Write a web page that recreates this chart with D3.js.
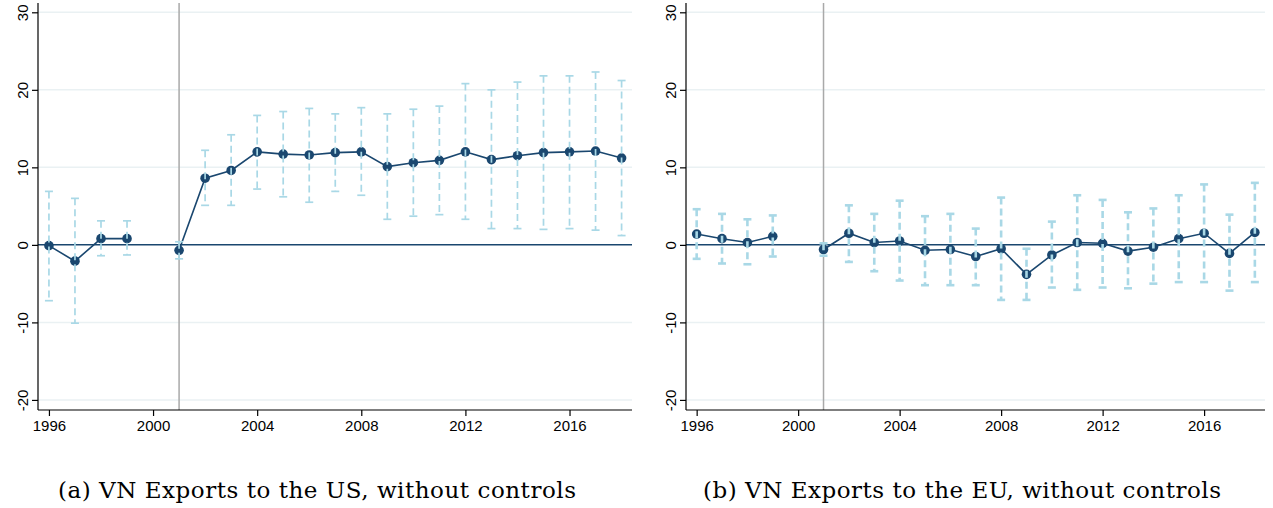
<!DOCTYPE html>
<html>
<head>
<meta charset="utf-8">
<script src="https://cdn.jsdelivr.net/npm/d3@7"></script>
<style>
  body { margin: 0; background: #fff; }
  svg { display: block; }
</style>
</head>
<body>
<div id="chart"></div>
<script>
// event-study years (2000 is the omitted year)
var years = [1996, 1997, 1998, 1999, 2000, 2001, 2002, 2003, 2004, 2005, 2006, 2007,
             2008, 2009, 2010, 2011, 2012, 2013, 2014, 2015, 2016, 2017, 2018];

// (a) exports to the US
var usCoef = [-0.1, -2.1, 0.8, 0.8, null, -0.7, 8.6, 9.6, 12.0, 11.7, 11.6, 11.9,
              12.0, 10.1, 10.6, 10.9, 12.0, 11.0, 11.5, 11.9, 12.0, 12.1, 11.2];
var usHigh = [6.9, 6.0, 3.1, 3.1, null, 0.4, 12.2, 14.2, 16.7, 17.2, 17.6, 16.9,
              17.7, 16.9, 17.5, 17.9, 20.8, 20.0, 21.0, 21.8, 21.8, 22.3, 21.2];
var usLow  = [-7.2, -10.1, -1.4, -1.3, null, -1.8, 5.1, 5.1, 7.2, 6.2, 5.5, 6.9,
              6.4, 3.3, 3.7, 3.9, 3.3, 2.1, 2.1, 2.0, 2.1, 1.9, 1.2];

// (b) exports to the EU
var euCoef = [1.4, 0.8, 0.3, 1.1, null, -0.6, 1.5, 0.3, 0.5, -0.7, -0.6, -1.5,
              -0.5, -3.8, -1.3, 0.3, 0.2, -0.8, -0.3, 0.8, 1.5, -1.1, 1.6];
var euHigh = [4.6, 4.0, 3.3, 3.8, null, 0.2, 5.1, 4.0, 5.7, 3.7, 4.0, 2.1,
              6.1, -0.5, 3.0, 6.4, 5.8, 4.2, 4.7, 6.4, 7.8, 3.9, 8.0];
var euLow  = [-1.8, -2.4, -2.5, -1.5, null, -1.4, -2.2, -3.4, -4.6, -5.2, -5.2, -5.2,
              -7.1, -7.1, -5.5, -5.8, -5.5, -5.6, -5.0, -4.8, -4.8, -5.9, -4.8];

var yTicks = [-20, -10, 0, 10, 20, 30];
var xTicks = [1996, 2000, 2004, 2008, 2012, 2016];
var eventYear = 2001;

var captions = ["(a) VN Exports to the US, without controls",
                "(b) VN Exports to the EU, without controls"];

var W = 1273, H = 508;
var navy = "#1a476f", ciColor = "#a9d8e6", gridColor = "#eaf1f3";
var tickFont = "'Liberation Sans', Arial, sans-serif";

var svg = d3.select("#chart").append("svg")
  .attr("width", W).attr("height", H);

function drawPanel(left, right, coef, lo, hi, caption, capX, ciWidth) {
  var top = 3, bottom = 410;

  var x = d3.scaleLinear().domain([1995.58, 2018.4]).range([left, right]);
  var y = d3.scaleLinear().domain([-21.3, 31.2]).range([bottom, top]);

  var g = svg.append("g");

  // grid lines
  g.selectAll("line.grid")
    .data(yTicks.filter(function(t) { return t !== 0; }))
    .enter().append("line")
    .attr("x1", left).attr("x2", right)
    .attr("y1", function(d) { return y(d); })
    .attr("y2", function(d) { return y(d); })
    .attr("stroke", gridColor).attr("stroke-width", 1.5);

  // zero line
  g.append("line")
    .attr("x1", left).attr("x2", right)
    .attr("y1", y(0)).attr("y2", y(0))
    .attr("stroke", navy).attr("stroke-width", 1.5);

  // event line
  g.append("line")
    .attr("x1", x(eventYear)).attr("x2", x(eventYear))
    .attr("y1", top).attr("y2", bottom)
    .attr("stroke", "#a9a9a9").attr("stroke-width", 1.5);

  var pts = years.map(function(yr, i) {
    return { year: yr, coef: coef[i], lo: lo[i], hi: hi[i] };
  });

  var line = d3.line()
    .defined(function(d) { return d.coef !== null; })
    .x(function(d) { return x(d.year); })
    .y(function(d) { return y(d.coef); });

  g.append("path").datum(pts)
    .attr("d", line)
    .attr("fill", "none")
    .attr("stroke", navy).attr("stroke-width", 1.6);

  var valid = pts.filter(function(d) { return d.coef !== null; });

  g.selectAll("circle.pt")
    .data(valid).enter().append("circle")
    .attr("cx", function(d) { return x(d.year); })
    .attr("cy", function(d) { return y(d.coef); })
    .attr("r", 4.8)
    .attr("fill", navy);

  // confidence intervals, drawn on top of the markers
  var ci = g.selectAll("g.ci").data(valid).enter().append("g")
    .attr("stroke", ciColor);

  ci.append("line")
    .attr("x1", function(d) { return x(d.year); })
    .attr("x2", function(d) { return x(d.year); })
    .attr("y1", function(d) { return y(d.hi); })
    .attr("y2", function(d) { return y(d.lo); })
    .attr("stroke-width", ciWidth)
    .attr("stroke-dasharray", "7,4");

  ["hi", "lo"].forEach(function(k) {
    ci.append("line")
      .attr("x1", function(d) { return x(d.year) - 4; })
      .attr("x2", function(d) { return x(d.year) + 4; })
      .attr("y1", function(d) { return y(d[k]); })
      .attr("y2", function(d) { return y(d[k]); })
      .attr("stroke-width", ciWidth);
  });

  // y axis with rotated labels (plain hyphen for negatives, as in the original)
  var ya = g.append("g")
    .attr("transform", "translate(" + left + ",0)")
    .call(d3.axisLeft(y).tickValues(yTicks).tickSize(6).tickSizeOuter(0)
      .tickFormat(function(d) { return String(d); }))
    .attr("font-family", tickFont)
    .attr("font-size", 15);
  ya.select(".domain").attr("d", "M0," + top + "V" + bottom).attr("stroke-width", 1.2);
  ya.selectAll(".tick line").attr("stroke-width", 1.2);
  ya.selectAll(".tick text")
    .attr("transform", "rotate(-90)")
    .attr("x", 0)
    .attr("y", -10)
    .attr("dy", 0)
    .attr("text-anchor", "middle")
    .attr("fill", "#000");

  // x axis
  var xa = g.append("g")
    .attr("transform", "translate(0," + bottom + ")")
    .call(d3.axisBottom(x).tickValues(xTicks).tickFormat(function(d) { return String(d); })
      .tickSize(6).tickSizeOuter(0))
    .attr("font-family", tickFont)
    .attr("font-size", 15);
  xa.select(".domain").attr("d", "M" + left + ",0H" + right).attr("stroke-width", 1.2);
  xa.selectAll(".tick line").attr("stroke-width", 1.2);
  xa.selectAll(".tick text")
    .attr("y", 10)
    .attr("fill", "#000");

  svg.append("text")
    .attr("x", capX)
    .attr("y", 498)
    .attr("text-anchor", "middle")
    .attr("textLength", 518)
    .attr("lengthAdjust", "spacing")
    .style("font-family", "'DejaVu Serif', serif")
    .style("font-size", "23px")
    .text(caption);
}

drawPanel(38, 632, usCoef, usLow, usHigh, captions[0], 317, 1.7);
drawPanel(686, 1265, euCoef, euLow, euHigh, captions[1], 962, 2.6);
</script>
</body>
</html>
